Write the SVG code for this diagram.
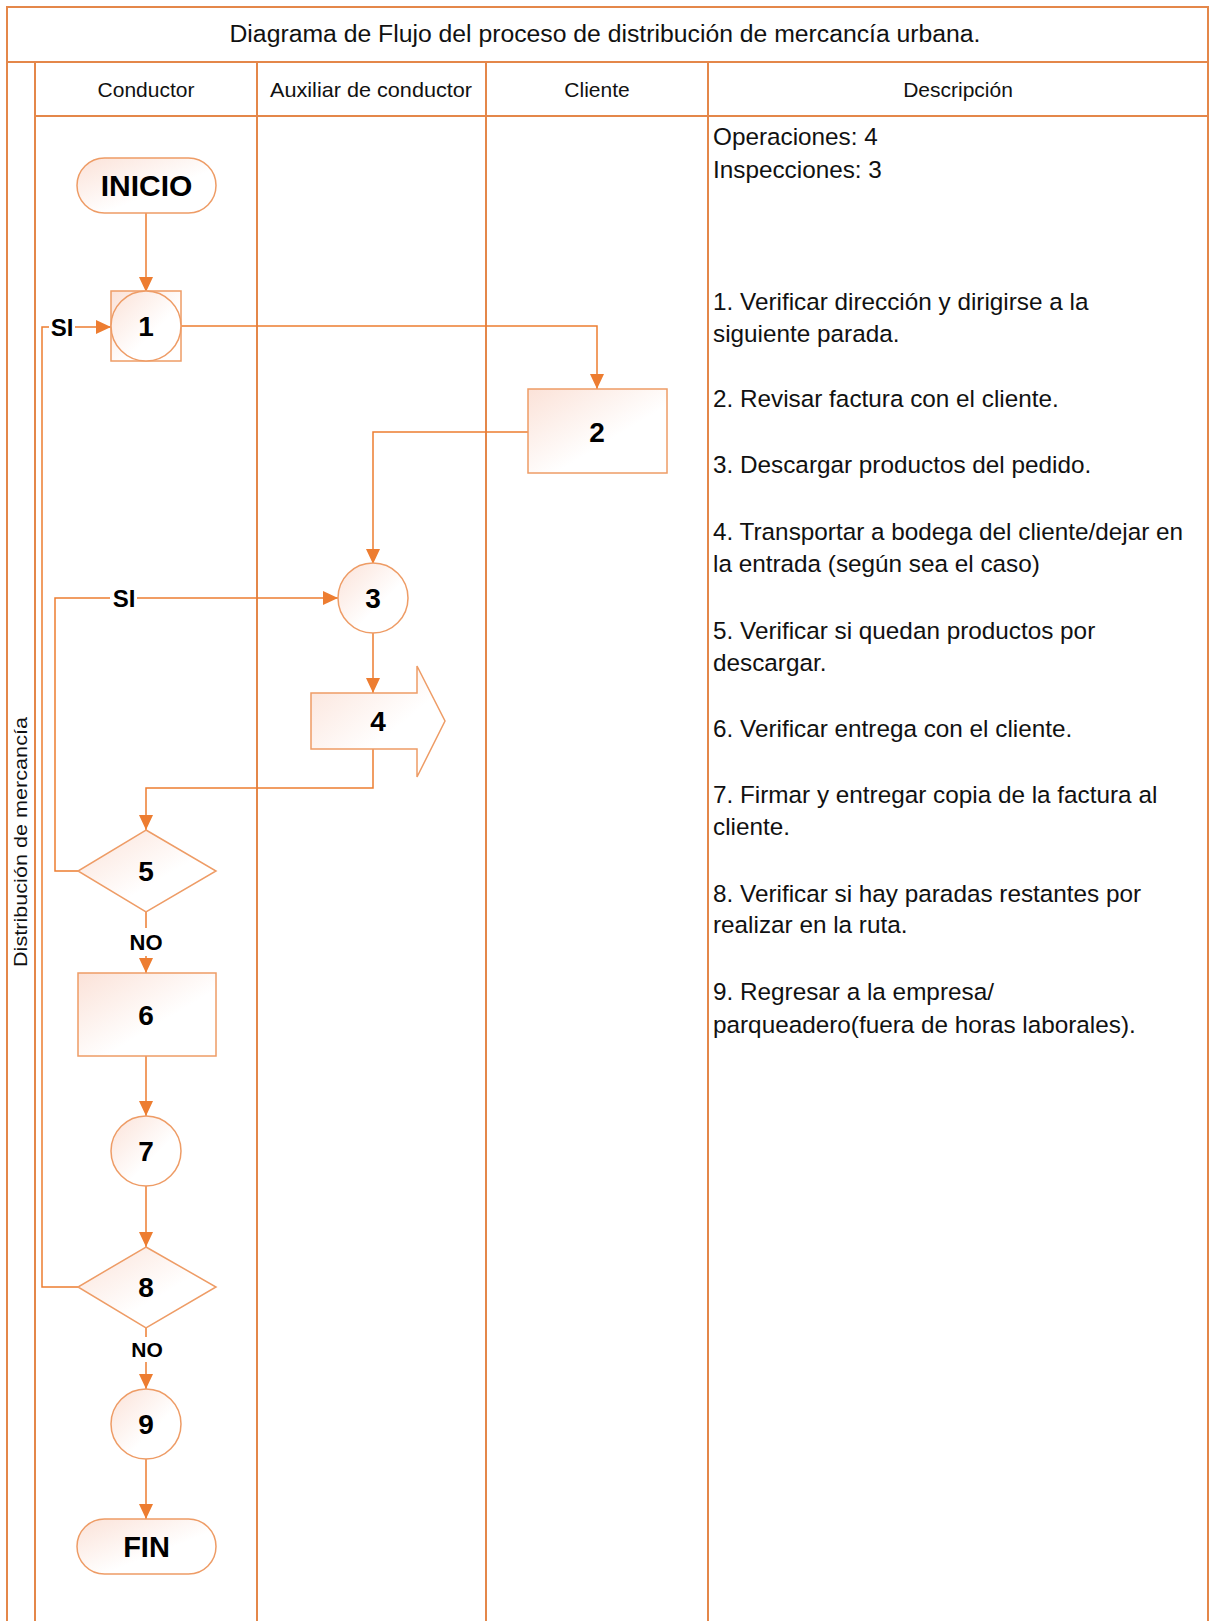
<svg xmlns="http://www.w3.org/2000/svg" width="1209" height="1621" viewBox="0 0 1209 1621">
<defs>
<linearGradient id="gNode" x1="0" y1="0" x2="1" y2="1">
<stop offset="0" stop-color="#FBE2D8"/>
<stop offset="0.6" stop-color="#FFFFFF"/>
</linearGradient>
<linearGradient id="gBand" x1="0" y1="0" x2="1" y2="1">
<stop offset="0" stop-color="#FCE6DD"/>
<stop offset="1" stop-color="#FFFFFF"/>
</linearGradient>
<linearGradient id="gDesc" x1="0" y1="0" x2="1" y2="1">
<stop offset="0" stop-color="#FDEBE3"/>
<stop offset="1" stop-color="#FFF8F5"/>
</linearGradient>
<marker id="arr" markerUnits="userSpaceOnUse" markerWidth="16" markerHeight="14" refX="15" refY="7" orient="auto">
<path d="M0,0 L15,7 L0,14 Z" fill="#ED7D31"/>
</marker>
<style>
.frame{fill:none;stroke:#E4874A;stroke-width:2}
.shape{stroke:#EE9C66;stroke-width:1.5;fill:url(#gNode)}
.conn{fill:none;stroke:#ED7D31;stroke-width:1.5}
.lbl{font-family:"Liberation Sans",Arial,sans-serif;font-weight:bold;fill:#000;text-anchor:middle}
.hdr{font-family:"Liberation Sans",Arial,sans-serif;font-size:21px;fill:#111;text-anchor:middle}
.desc{font-family:"Liberation Sans",Arial,sans-serif;font-size:24.3px;fill:#111}
</style>
</defs>
<rect width="1209" height="1621" fill="#FFFFFF"/>

<g id="frame">
<rect x="7" y="7" width="1201" height="55" fill="url(#gBand)" class="frame"/>
<rect x="7" y="62" width="28" height="1570" fill="url(#gBand)" class="frame"/>
<rect x="35" y="62" width="222" height="54" fill="url(#gBand)" class="frame"/>
<rect x="257" y="62" width="229" height="54" fill="url(#gBand)" class="frame"/>
<rect x="486" y="62" width="222" height="54" fill="url(#gBand)" class="frame"/>
<rect x="708" y="62" width="500" height="54" fill="url(#gBand)" class="frame"/>
<rect x="35" y="116" width="222" height="1516" fill="#FFFFFF" class="frame"/>
<rect x="257" y="116" width="229" height="1516" fill="#FFFFFF" class="frame"/>
<rect x="486" y="116" width="222" height="1516" fill="#FFFFFF" class="frame"/>
<rect x="708" y="116" width="500" height="1516" fill="url(#gDesc)" class="frame"/>
<text x="605" y="42" class="hdr" style="font-size:23px" textLength="751" lengthAdjust="spacingAndGlyphs">Diagrama de Flujo del proceso de distribución de mercancía urbana.</text>
<text x="146" y="97" class="hdr">Conductor</text>
<text x="371" y="97" class="hdr" textLength="202" lengthAdjust="spacingAndGlyphs">Auxiliar de conductor</text>
<text x="597" y="97" class="hdr">Cliente</text>
<text x="958" y="97" class="hdr">Descripción</text>
<text x="0" y="0" class="hdr" style="font-size:19px" transform="translate(27,842) rotate(-90)" textLength="250" lengthAdjust="spacingAndGlyphs">Distribución de mercancía</text>
</g>

<g id="description">
<text class="desc" x="713" y="145">Operaciones: 4</text>
<text class="desc" x="713" y="178">Inspecciones: 3</text>
<text class="desc" x="713" y="310">1. Verificar dirección y dirigirse a la</text>
<text class="desc" x="713" y="342">siguiente parada.</text>
<text class="desc" x="713" y="407">2. Revisar factura con el cliente.</text>
<text class="desc" x="713" y="473">3. Descargar productos del pedido.</text>
<text class="desc" x="713" y="540">4. Transportar a bodega del cliente/dejar en</text>
<text class="desc" x="713" y="572">la entrada (según sea el caso)</text>
<text class="desc" x="713" y="639">5. Verificar si quedan productos por</text>
<text class="desc" x="713" y="671">descargar.</text>
<text class="desc" x="713" y="737">6. Verificar entrega con el cliente.</text>
<text class="desc" x="713" y="803">7. Firmar y entregar copia de la factura al</text>
<text class="desc" x="713" y="835">cliente.</text>
<text class="desc" x="713" y="902">8. Verificar si hay paradas restantes por</text>
<text class="desc" x="713" y="933">realizar en la ruta.</text>
<text class="desc" x="713" y="1000">9. Regresar a la empresa/</text>
<text class="desc" x="713" y="1033">parqueadero(fuera de horas laborales).</text>
</g>

<g id="connectors">
<path class="conn" d="M146,213 L146,292" marker-end="url(#arr)"/>
<path class="conn" d="M181,326 L597,326 L597,389" marker-end="url(#arr)"/>
<path class="conn" d="M528,432 L373,432 L373,564" marker-end="url(#arr)"/>
<path class="conn" d="M373,633 L373,693" marker-end="url(#arr)"/>
<path class="conn" d="M373,749 L373,788 L146,788 L146,830" marker-end="url(#arr)"/>
<path class="conn" d="M78,871 L55,871 L55,598 L110,598"/>
<path class="conn" d="M137,598 L338,598" marker-end="url(#arr)"/>
<path class="conn" d="M146,912 L146,928"/>
<path class="conn" d="M146,956 L146,973" marker-end="url(#arr)"/>
<path class="conn" d="M146,1056 L146,1116" marker-end="url(#arr)"/>
<path class="conn" d="M146,1186 L146,1247" marker-end="url(#arr)"/>
<path class="conn" d="M78,1287 L42,1287 L42,327 L49,327"/>
<path class="conn" d="M75,327 L111,327" marker-end="url(#arr)"/>
<path class="conn" d="M146,1328 L146,1337"/>
<path class="conn" d="M146,1362 L146,1389" marker-end="url(#arr)"/>
<path class="conn" d="M146,1459 L146,1519" marker-end="url(#arr)"/>
<text class="lbl" x="62" y="336" style="font-size:24px">SI</text>
<text class="lbl" x="124" y="607" style="font-size:24px">SI</text>
<text class="lbl" x="146" y="950" style="font-size:22px">NO</text>
<text class="lbl" x="147" y="1357" style="font-size:21px">NO</text>
</g>

<g id="node-inicio">
<rect class="shape" x="77" y="158" width="139" height="55" rx="27.5"/>
<text class="lbl" x="146.5" y="196" style="font-size:30px">INICIO</text>
</g>
<g id="node-1">
<rect class="shape" x="111" y="291" width="70" height="70"/>
<circle class="shape" cx="146" cy="326" r="35"/>
<text class="lbl" x="146" y="336" style="font-size:28px">1</text>
</g>
<g id="node-2">
<rect class="shape" x="528" y="389" width="139" height="84"/>
<text class="lbl" x="597" y="442" style="font-size:28px">2</text>
</g>
<g id="node-3">
<circle class="shape" cx="373" cy="598" r="35"/>
<text class="lbl" x="373" y="608" style="font-size:28px">3</text>
</g>
<g id="node-4">
<polygon class="shape" points="311,693 417,693 417,666 445,721 417,777 417,749 311,749"/>
<text class="lbl" x="378" y="731" style="font-size:28px">4</text>
</g>
<g id="node-5">
<polygon class="shape" points="146,830 216,871 146,912 78,871"/>
<text class="lbl" x="146" y="881" style="font-size:28px">5</text>
</g>
<g id="node-6">
<rect class="shape" x="78" y="973" width="138" height="83"/>
<text class="lbl" x="146" y="1025" style="font-size:28px">6</text>
</g>
<g id="node-7">
<circle class="shape" cx="146" cy="1151" r="35"/>
<text class="lbl" x="146" y="1161" style="font-size:28px">7</text>
</g>
<g id="node-8">
<polygon class="shape" points="146,1247 216,1287 146,1328 78,1287"/>
<text class="lbl" x="146" y="1297" style="font-size:28px">8</text>
</g>
<g id="node-9">
<circle class="shape" cx="146" cy="1424" r="35"/>
<text class="lbl" x="146" y="1434" style="font-size:28px">9</text>
</g>
<g id="node-fin">
<rect class="shape" x="77" y="1519" width="139" height="55" rx="27.5"/>
<text class="lbl" x="146.5" y="1557" style="font-size:29px">FIN</text>
</g>
</svg>
